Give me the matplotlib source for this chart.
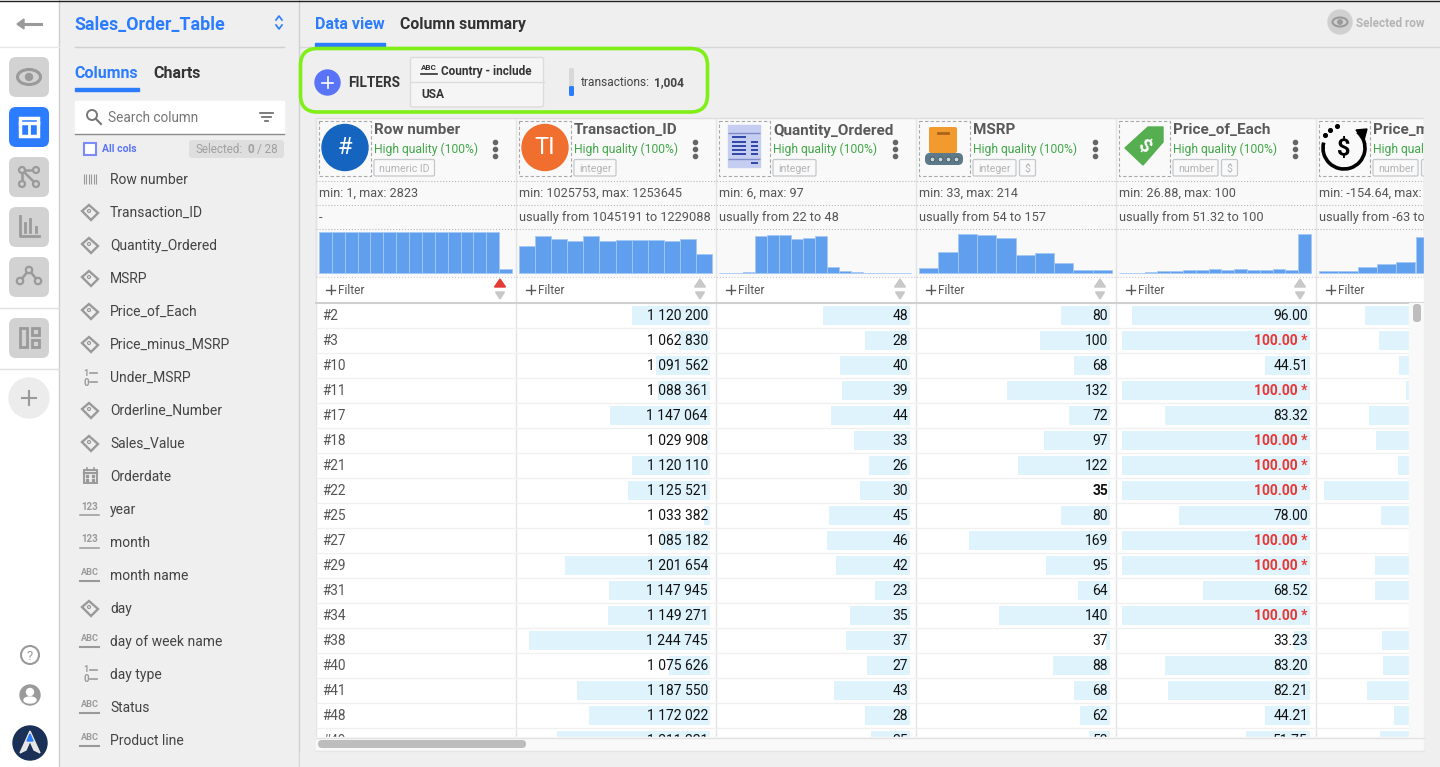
import numpy as np
import matplotlib.pyplot as plt
from matplotlib.patches import FancyBboxPatch, Circle, Rectangle, Polygon, Ellipse, Arc

plt.rcParams['font.family'] = ['Roboto', 'DejaVu Sans']

"""
화면 데이터 : 표 값, 히스토그램 값, 컬럼 목록
"""
row_ids = ['#2', '#3', '#10', '#11', '#17', '#18', '#21', '#22', '#25', '#27', '#29', '#31', '#34', '#38', '#40', '#41', '#48', '#49']
transaction_id = [1120200, 1062830, 1091562, 1088361, 1147064, 1029908, 1120110, 1125521, 1033382, 1085182, 1201654, 1147945, 1149271, 1244745, 1075626, 1187550, 1172022, 1211221]
quantity = [48, 28, 40, 39, 44, 33, 26, 30, 45, 46, 42, 23, 35, 37, 27, 43, 28, 25]
msrp = [80, 100, 68, 132, 72, 97, 122, 35, 80, 169, 95, 64, 140, 37, 88, 68, 62, 53]
price = [96.00, 100.00, 44.51, 100.00, 83.32, 100.00, 100.00, 100.00, 78.00, 100.00, 100.00, 68.52, 100.00, 33.23, 83.20, 82.21, 44.21, 51.75]
price_minus = [90, 66, 32, 21, 83, 71, 34, 159, 63, 5, 73, 73, 5, 61, 59, 86, 41, 64]

hist_row = [122, 122, 122, 122, 122, 122, 122, 122, 122, 122, 122, 122, 122, 122, 13]
hist_transaction = [82, 111, 103, 95, 110, 95, 98, 100, 98, 95, 103, 57]
hist_quantity = [0, 1, 2, 110, 114, 115, 103, 104, 110, 17, 5, 2, 1, 0, 1, 0]
hist_msrp = [15, 63, 116, 113, 105, 53, 59, 31, 10, 10]
hist_price = [0, 1, 4, 5, 5, 8, 8, 13, 10, 12, 10, 10, 13, 9, 116]
hist_minus = [6, 6, 17, 28, 33, 108, 70, 40, 15, 5]

column_names = ['Row number', 'Transaction_ID', 'Quantity_Ordered', 'MSRP', 'Price_of_Each', 'Price_minus_MSRP']
column_tags = ['numeric ID', 'integer', 'integer', 'integer', 'number', 'number']
min_max = ['min: 1, max: 2823', 'min: 1025753, max: 1253645', 'min: 6, max: 97', 'min: 33, max: 214', 'min: 26.88, max: 100', 'min: -154.64, max: 162']
usually = ['-', 'usually from 1045191 to 1229088', 'usually from 22 to 48', 'usually from 54 to 157', 'usually from 51.32 to 100', 'usually from -63 to 72']

side_items = ['Row number', 'Transaction_ID', 'Quantity_Ordered', 'MSRP', 'Price_of_Each', 'Price_minus_MSRP', 'Under_MSRP', 'Orderline_Number', 'Sales_Value', 'Orderdate', 'year', 'month', 'month name', 'day', 'day of week name', 'day type', 'Status', 'Product line']
side_types = ['bar', 'tag', 'tag', 'tag', 'tag', 'tag', 'bin', 'tag', 'tag', 'cal', 'num', 'num', 'abc', 'tag', 'abc', 'bin', 'abc', 'abc']

# 픽셀 좌표 그대로 쓰는 전체 캔버스
plt.figure(figsize=(14.4, 7.67), dpi=100, facecolor='#efefef')
plt.axes([0, 0, 1, 1])
plt.xlim(0, 1440)
plt.ylim(767, 0)
plt.axis('off')
ax = plt.gca()

blue = '#2b7cff'
gray_icon = '#9a9a9a'
dark = '#333333'

"""
왼쪽 아이콘 메뉴
"""
ax.add_patch(Rectangle((0, 0), 59, 767, color='white', zorder=1))
plt.plot([59, 59], [0, 767], color='#cccccc', lw=1, zorder=2)
plt.plot([299, 299], [0, 767], color='#d0d0d0', lw=1, zorder=2)
plt.plot([0, 1440], [0.5, 0.5], color='#222222', lw=1, zorder=8)
plt.plot([0, 59], [46.5, 46.5], color='#e8e8e8', lw=1, zorder=2)
plt.plot([0, 59], [307.5, 307.5], color='#e0e0e0', lw=1, zorder=2)
plt.plot([0, 59], [368.5, 368.5], color='#e0e0e0', lw=1, zorder=2)

# 뒤로가기 화살표
plt.plot([19, 41], [24, 24], color=gray_icon, lw=2.2, zorder=3)
ax.add_patch(Polygon([[17, 24], [24, 19], [24, 29]], color=gray_icon, zorder=3))

for top, face in zip([57, 107, 157, 207, 257, 318], ['#d2d2d2', blue, '#d2d2d2', '#d2d2d2', '#d2d2d2', '#d2d2d2']):
    ax.add_patch(FancyBboxPatch((9, top), 40, 40, boxstyle='round,pad=0,rounding_size=7', fc=face, ec='none', zorder=2))

# 눈 아이콘
ax.add_patch(Ellipse((29, 77), 23, 15, fc='none', ec=gray_icon, lw=2.2, zorder=3))
ax.add_patch(Circle((29, 77), 3.5, color=gray_icon, zorder=3))
# 표 아이콘
ax.add_patch(Rectangle((20, 117.5), 18, 18, fc='none', ec='white', lw=2.5, zorder=3))
plt.plot([20, 38], [122.5, 122.5], color='white', lw=2.5, zorder=3)
plt.plot([29, 29], [122.5, 135.5], color='white', lw=2, zorder=3)
# 그래프 아이콘
plt.plot([36, 22, 22], [170, 170, 184], color=gray_icon, lw=1.8, zorder=3)
plt.plot([22, 36], [170, 184], color=gray_icon, lw=1.8, zorder=3)
for cx, cy in [(22, 170), (36, 170), (22, 184), (36, 184)]:
    ax.add_patch(Circle((cx, cy), 3, fc='#d2d2d2', ec=gray_icon, lw=1.6, zorder=4))
# 막대 아이콘
plt.plot([19.5, 19.5, 39], [216, 235.5, 235.5], color=gray_icon, lw=2, zorder=3)
plt.plot([25, 25], [223, 232], color=gray_icon, lw=2, zorder=3)
plt.plot([30, 30], [219, 232], color=gray_icon, lw=2, zorder=3)
plt.plot([36, 36], [227, 232], color=gray_icon, lw=2, zorder=3)
# 네트워크 아이콘
plt.plot([20, 29, 38], [281, 270, 281], color=gray_icon, lw=1.8, zorder=3)
for cx, cy in [(20, 281), (29, 270), (38, 281)]:
    ax.add_patch(Circle((cx, cy), 3.2, fc='#d2d2d2', ec=gray_icon, lw=1.6, zorder=4))
# 레이아웃 아이콘
ax.add_patch(Rectangle((19.5, 328), 7, 19, fc='none', ec=gray_icon, lw=2, zorder=3))
ax.add_patch(Rectangle((31.5, 328), 7, 7, fc='none', ec=gray_icon, lw=2, zorder=3))
ax.add_patch(Rectangle((31.5, 340), 7, 7, fc='none', ec=gray_icon, lw=2, zorder=3))
# 추가 버튼
ax.add_patch(Circle((29, 398), 20, color='#ececec', zorder=2))
plt.plot([22, 36], [398, 398], color=gray_icon, lw=1.5, zorder=3)
plt.plot([29, 29], [391, 405], color=gray_icon, lw=1.5, zorder=3)

# 아래쪽 도움말, 사용자, 로고
ax.add_patch(Circle((30, 655), 9, fc='none', ec=gray_icon, lw=1.5, zorder=3))
plt.text(30, 656, '?', fontsize=9.5, color=gray_icon, ha='center', va='center', zorder=4)
ax.add_patch(Circle((30, 695), 10, color=gray_icon, zorder=3))
ax.add_patch(Circle((30, 692), 3.5, color='white', zorder=4))
ax.add_patch(Ellipse((30, 700), 12, 6, color='white', zorder=4))
ax.add_patch(Circle((30, 743), 17, color='#1b3056', zorder=3))
ax.add_patch(Polygon([[30, 731], [40, 753], [34, 750], [30, 741], [26, 750], [20, 753]], color='#e6e6e6', zorder=4))
ax.add_patch(Polygon([[30, 734], [33, 741], [27, 741]], color='#2b7cff', zorder=5))

"""
사이드바 : 테이블 이름, 탭, 검색, 컬럼 목록
"""
plt.text(74.5, 25, 'Sales_Order_Table', fontsize=12.8, fontweight='bold', color=blue, va='center')
plt.plot([276, 279, 282], [20, 16, 20], color=blue, lw=1.2, zorder=3)
plt.plot([276, 279, 282], [25, 29, 25], color=blue, lw=1.2, zorder=3)
plt.plot([75, 284], [46.5, 46.5], color='#d0d0d0', lw=1)

plt.text(74.5, 74, 'Columns', fontsize=11.5, fontweight='bold', color=blue, va='center')
plt.text(153.5, 74, 'Charts', fontsize=11.5, fontweight='bold', color=dark, va='center')
ax.add_patch(Rectangle((75, 88), 64, 3, color=blue, zorder=3))

ax.add_patch(Rectangle((75, 101), 209, 32, color='white', zorder=2))
plt.plot([75, 284], [133.5, 133.5], color='#8a8a8a', lw=1, zorder=3)
ax.add_patch(Circle((92, 115), 5, fc='none', ec='#777777', lw=1.4, zorder=3))
plt.plot([96, 101], [119, 124], color='#777777', lw=1.5, zorder=3)
plt.text(108, 118, 'Search column', fontsize=9.8, color='#777777', va='center', zorder=3)
plt.plot([260, 273], [113, 113], color='#666666', lw=1.2, zorder=3)
plt.plot([262, 271], [117, 117], color='#666666', lw=1.2, zorder=3)
plt.plot([265, 268], [121, 121], color='#666666', lw=1.2, zorder=3)

ax.add_patch(Rectangle((84, 143), 12, 12, fc='white', ec='#7b8cf8', lw=1.5, zorder=3))
plt.text(102, 149, 'All cols', fontsize=7.5, fontweight='bold', color='#5a74f8', va='center', zorder=3)
ax.add_patch(FancyBboxPatch((189, 140), 95, 18, boxstyle='round,pad=0,rounding_size=3', fc='#dedede', ec='none', zorder=2))
plt.text(195, 149.5, 'Selected:', fontsize=8.4, color='#a0a0a0', va='center', zorder=3)
plt.text(247, 149.5, '0', fontsize=8.4, fontweight='bold', color='#a0a0a0', va='center', zorder=3)
plt.text(278, 149.5, '/ 28', fontsize=8.4, color='#a0a0a0', va='center', ha='right', zorder=3)

# 컬럼 목록과 타입 아이콘
for i, (item, kind) in enumerate(zip(side_items, side_types)):
    y = 179 + 33 * i
    plt.text(110, y + 1, item, fontsize=10, color='#444444', va='center', zorder=3)
    if kind == 'bar':
        plt.vlines(np.arange(84, 98, 2.4), y - 5, y + 5, color=gray_icon, lw=0.8, zorder=3)
    elif kind == 'tag':
        ax.add_patch(Polygon([[82, y - 1], [89, y - 7], [98, y + 1], [91, y + 8]], fc='none', ec=gray_icon, lw=1.7, zorder=3))
        ax.add_patch(Circle((89, y - 1), 1.5, fc='none', ec=gray_icon, lw=0.9, zorder=3))
    elif kind == 'bin':
        plt.text(86, y - 4, '1', fontsize=6.5, fontweight='bold', color=gray_icon, ha='center', va='center', zorder=3)
        plt.text(86, y + 5.5, '0', fontsize=7, fontweight='bold', color=gray_icon, ha='center', va='center', zorder=3)
        plt.plot([90, 97], [y - 4, y - 4], color=gray_icon, lw=1.2, zorder=3)
        plt.plot([90, 97], [y + 5, y + 5], color=gray_icon, lw=1.2, zorder=3)
    elif kind == 'cal':
        ax.add_patch(Rectangle((83.5, y - 6), 13, 13, fc='none', ec=gray_icon, lw=1.4, zorder=3))
        plt.plot([83.5, 96.5], [y - 3, y - 3], color=gray_icon, lw=1.6, zorder=3)
        plt.plot([86.5, 86.5], [y - 8, y - 6], color=gray_icon, lw=1.2, zorder=3)
        plt.plot([93.5, 93.5], [y - 8, y - 6], color=gray_icon, lw=1.2, zorder=3)
        plt.scatter([87, 93, 87, 93], [y, y, y + 3.5, y + 3.5], s=2.5, color=gray_icon, marker='s', zorder=3)
    elif kind == 'num':
        plt.text(90, y - 2.5, '123', fontsize=7, fontweight='bold', color=gray_icon, ha='center', va='center', zorder=3)
        plt.plot([80, 99], [y + 5.5, y + 5.5], color=gray_icon, lw=1.1, zorder=3)
    elif kind == 'abc':
        plt.text(90, y - 2.5, 'ABC', fontsize=6.6, fontweight='bold', color=gray_icon, ha='center', va='center', zorder=3)
        plt.plot([80, 99], [y + 5.5, y + 5.5], color=gray_icon, lw=1.5, zorder=3)

"""
상단 탭과 필터 영역
"""
plt.text(315, 24.5, 'Data view', fontsize=11.5, fontweight='bold', color=blue, va='center')
plt.text(400, 24.5, 'Column summary', fontsize=11.4, fontweight='bold', color=dark, va='center')
plt.plot([300, 1440], [46.5, 46.5], color='#d8d8d8', lw=1)
ax.add_patch(Rectangle((315, 43), 70, 3, color=blue, zorder=3))

ax.add_patch(Circle((1340, 22), 12, color='#d0d0d0', zorder=2))
ax.add_patch(Ellipse((1340, 22), 15, 9, fc='none', ec='#9a9a9a', lw=1.5, zorder=3))
ax.add_patch(Circle((1340, 22), 2.2, color='#9a9a9a', zorder=3))
plt.text(1356, 23.5, 'Selected row', fontsize=8.5, fontweight='bold', color='#b5b5b5', va='center')

ax.add_patch(FancyBboxPatch((300.5, 48.5), 407, 63.5, boxstyle='round,pad=0,rounding_size=17', fc='none', ec='#80ee17', lw=2.6, zorder=3))
ax.add_patch(Circle((327.5, 82.5), 12.5, color='#5a74f8', zorder=3))
plt.plot([322, 333], [82.5, 82.5], color='white', lw=1.2, zorder=4)
plt.plot([327.5, 327.5], [77, 88], color='white', lw=1.2, zorder=4)
plt.text(348, 83, 'FILTERS', fontsize=9.8, fontweight='bold', color=dark, va='center')

ax.add_patch(FancyBboxPatch((410.5, 57.5), 133, 49.5, boxstyle='round,pad=0,rounding_size=2', fc='#f5f5f5', ec='#dcdcdc', lw=1, zorder=2))
plt.plot([410.5, 543.5], [81.5, 81.5], color='#dcdcdc', lw=1, zorder=3)
plt.text(421, 67, 'ABC', fontsize=5.8, fontweight='bold', color=dark, va='center', zorder=3)
plt.plot([421, 437], [74, 74], color=dark, lw=1.2, zorder=3)
plt.text(441, 71, 'Country - include', fontsize=8.5, fontweight='bold', color=dark, va='center', zorder=3)
plt.text(421, 94.5, 'USA', fontsize=8.6, fontweight='bold', color=dark, va='center', zorder=3)

ax.add_patch(FancyBboxPatch((569, 68), 5, 28, boxstyle='round,pad=0,rounding_size=1.5', fc='#d8d8d8', ec='none', zorder=3))
ax.add_patch(FancyBboxPatch((569, 86), 5, 10, boxstyle='round,pad=0,rounding_size=1.5', fc=blue, ec='none', zorder=4))
plt.text(581, 83, 'transactions:', fontsize=8.6, color='#444444', va='center')
plt.text(654, 83, '1,004', fontsize=8.6, fontweight='bold', color='#444444', va='center')

"""
표 헤더 : 아이콘, 품질, 통계, 히스토그램
"""
ax.add_patch(Rectangle((315.5, 118), 1108, 185, fc='#f9f9f9', ec='#dddddd', lw=1, zorder=1))
ax.add_patch(Rectangle((315.5, 277), 1108, 26, color='white', zorder=1))
ax.add_patch(Rectangle((315.5, 303), 1093, 434, color='white', zorder=1))

col_left = [316, 516, 716, 916, 1116, 1316]
text_left = [374, 574, 773, 973, 1173, 1373]
box_right = [371, 571, 769.5, 970, 1170, 1370]
tag_right = [434.5, 616, 816, 1016, 1218, 1418]
hist_data = [hist_row, hist_transaction, hist_quantity, hist_msrp, hist_price, hist_minus]
hist_width = [193, 193, 192, 193, 192, 193]

for i, left in enumerate(col_left):
    name = column_names[i]
    plt.vlines(left - 0.5, 118, 737, color='#e4e4e4', lw=1, zorder=2)
    # 아이콘 점선 박스
    ax.add_patch(Rectangle((left + 3, 121), box_right[i] - left - 3, 54.5, fc='none', ec='#a8a8a8', lw=0.8, ls=(0, (3, 2)), zorder=2))
    plt.text(text_left[i], 130.5, name, fontsize=11, fontweight='bold', color='#5a5a5a', va='center', zorder=3)
    plt.text(text_left[i], 149, 'High quality (100%)', fontsize=8.7, color='#43a84a', va='center', zorder=3)
    ax.add_patch(FancyBboxPatch((text_left[i], 159.5), tag_right[i] - text_left[i], 16.5, boxstyle='round,pad=0,rounding_size=1.5', fc='none', ec='#c4c8cc', lw=0.9, zorder=2))
    plt.text(text_left[i] + 5, 168.5, column_tags[i], fontsize=7.6, color='#b4b4b4', va='center', zorder=3)
    if i in [3, 4, 5]:
        ax.add_patch(FancyBboxPatch((tag_right[i] + 3.5, 159.5), 16, 16.5, boxstyle='round,pad=0,rounding_size=1.5', fc='none', ec='#c4c8cc', lw=0.9, zorder=2))
        plt.text(tag_right[i] + 11.5, 168.5, '$', fontsize=7.6, color='#b4b4b4', ha='center', va='center', zorder=3)
    # 점 세개 메뉴
    if i < 5:
        plt.scatter([left + 179] * 3, [142, 149, 156], s=9, color='#666666', zorder=3)
    plt.text(left + 3, 193.5, min_max[i], fontsize=9.1, color='#555555', va='center', zorder=3)
    plt.text(left + 3, 217.5, usually[i], fontsize=9.2, color='#555555', va='center', zorder=3)

    # 히스토그램
    vals = np.array(hist_data[i], dtype=float)
    w = hist_width[i] / len(vals)
    xs = left + 3 + w * (np.arange(len(vals)) + 0.5)
    plt.bar(xs, -vals / 3, width=w, bottom=273, color='#5f9fee', edgecolor='#a6c8f3', linewidth=0.6, zorder=2)

    # 필터 줄
    plt.plot([left + 10, left + 19], [289.5, 289.5], color='#555555', lw=1, zorder=3)
    plt.plot([left + 14.5, left + 14.5], [285, 294], color='#555555', lw=1, zorder=3)
    plt.text(left + 22, 290.5, 'Filter', fontsize=8.6, color='#555555', va='center', zorder=3)
    if i < 5:
        up_color = '#e53935' if i == 0 else '#c8c8c8'
        ax.add_patch(Polygon([[left + 184, 279], [left + 189.5, 287], [left + 178.5, 287]], color=up_color, zorder=3))
        ax.add_patch(Polygon([[left + 184, 299], [left + 188.5, 292], [left + 179.5, 292]], color='#c8c8c8', zorder=3))

plt.plot([316, 1424], [181, 181], color='#bbbbbb', lw=0.8, ls=':', zorder=3)
plt.plot([316, 1424], [205, 205], color='#bbbbbb', lw=0.8, ls=':', zorder=3)
plt.plot([316, 1424], [229, 229], color='#bbbbbb', lw=0.8, ls=':', zorder=3)
plt.plot([316, 1424], [276.5, 276.5], color='#cccccc', lw=0.8, ls=':', zorder=3)
plt.plot([316, 1424], [302.5, 302.5], color='#d0d0d0', lw=1.5, zorder=3)

# 컬럼별 아이콘
ax.add_patch(Circle((345, 147.5), 23, color='#1565c0', zorder=3))
plt.text(345, 148, '#', fontsize=17, color='white', ha='center', va='center', zorder=4)
ax.add_patch(Circle((545, 147.5), 23, color='#f06f2f', zorder=3))
plt.text(545, 148, 'TI', fontsize=17, color='white', ha='center', va='center', zorder=4)

ax.add_patch(Rectangle((728, 125), 32, 42, color='#c5cdf0', zorder=3))
plt.hlines([133, 159], 728, 760, color='#7f8cc8', lw=1, zorder=4)
plt.hlines([137, 142, 146, 150, 154], 732, 746, color='#2f46a8', lw=1.4, zorder=4)
plt.hlines([142, 146, 150, 154, 163], 751, 758, color='#2f46a8', lw=1.4, zorder=4)

ax.add_patch(FancyBboxPatch((929, 127), 28, 26, boxstyle='round,pad=0,rounding_size=2', fc='#f39a2e', ec='none', zorder=3))
plt.plot([938, 948], [133, 133], color='#a8641a', lw=2, zorder=4)
ax.add_patch(FancyBboxPatch((925, 153), 38, 12, boxstyle='round,pad=0,rounding_size=5', fc='#5d7a8a', ec='none', zorder=3))
plt.scatter([932, 940, 948, 956], [159, 159, 159, 159], s=12, fc='#c8d4da', ec='#37474f', lw=0.5, zorder=4)

ax.add_patch(Polygon([[1125, 148], [1148, 127], [1163, 127], [1163, 142], [1143, 165]], color='#55ae4f', zorder=3))
plt.text(1144, 146, '$', fontsize=14, fontweight='bold', color='white', ha='center', va='center', rotation=-40, zorder=4)

ax.add_patch(Arc((1344, 148), 42, 42, theta1=-50, theta2=195, ec='black', lw=2.6, zorder=3))
ax.add_patch(Polygon([[1356, 130], [1367, 129], [1364, 140]], color='black', zorder=4))
plt.scatter([1325, 1330, 1337], [135, 130, 126], s=7, color='black', zorder=4)
plt.text(1344, 148.5, '$', fontsize=17, fontweight='bold', color='black', ha='center', va='center', zorder=4)

"""
표 본문 : 값 막대와 숫자
"""
y_rows = 315 + 25 * np.arange(len(row_ids))
plt.hlines(y_rows[:-1] + 12.5, 316, 1409, color='#f0f0f0', lw=1, zorder=2)

table_cols = [transaction_id, quantity, msrp, price, price_minus]
col_min = [1025753, 6, 33, 26.88, -154.64]
col_max = [1253645, 97, 214, 100, 162]
col_right = [710, 910, 1110, 1310, 1510]

for vals, vmin, vmax, right in zip(table_cols, col_min, col_max, col_right):
    vals = np.array(vals, dtype=float)
    widths = (vals - vmin) / (vmax - vmin) * 188  # 컬럼 최솟값 기준 막대 길이
    plt.barh(y_rows + 0.5, widths, height=19, left=right - widths, color='#dff3fd', zorder=2)

for i, row in enumerate(row_ids):
    y = y_rows[i] + 1
    plt.text(322.5, y, row, fontsize=9.8, color='#555555', va='center', zorder=3)
    plt.text(708, y, f'{transaction_id[i]:,}'.replace(',', ' '), fontsize=10, color='#111111', ha='right', va='center', zorder=3)
    plt.text(908, y, str(quantity[i]), fontsize=10, color='#111111', ha='right', va='center', zorder=3)
    plt.text(1108, y, str(msrp[i]), fontsize=10, color='#111111', ha='right', va='center', zorder=3,
             fontweight='bold' if row == '#22' else 'normal')
    if price[i] == 100:
        plt.text(1308, y, f'{price[i]:.2f} *', fontsize=10, fontweight='bold', color='#e53935', ha='right', va='center', zorder=3)
    else:
        plt.text(1308, y, f'{price[i]:.2f}', fontsize=10, color='#111111', ha='right', va='center', zorder=3)

# 잘린 부분을 덮는 스크롤 영역
ax.add_patch(Rectangle((1409, 303), 15, 448, color='#f9f9f9', zorder=5))
ax.add_patch(Rectangle((316, 737), 1108, 14, color='#f9f9f9', zorder=5))
ax.add_patch(Rectangle((300, 751), 1140, 16, color='#efefef', zorder=5))
ax.add_patch(Rectangle((1424, 100), 16, 667, color='#efefef', zorder=5))
plt.plot([316, 1424], [737.5, 737.5], color='#e2e2e2', lw=1, zorder=6)
plt.plot([316, 1424], [751, 751], color='#e6e6e6', lw=1, zorder=6)
ax.add_patch(FancyBboxPatch((318, 740), 208, 8, boxstyle='round,pad=0,rounding_size=4', fc='#bdbdbd', ec='none', zorder=6))
ax.add_patch(FancyBboxPatch((1413, 304), 8, 18, boxstyle='round,pad=0,rounding_size=3.5', fc='#bdbdbd', ec='none', zorder=6))

plt.savefig('out.png', dpi=100, facecolor='#efefef')
